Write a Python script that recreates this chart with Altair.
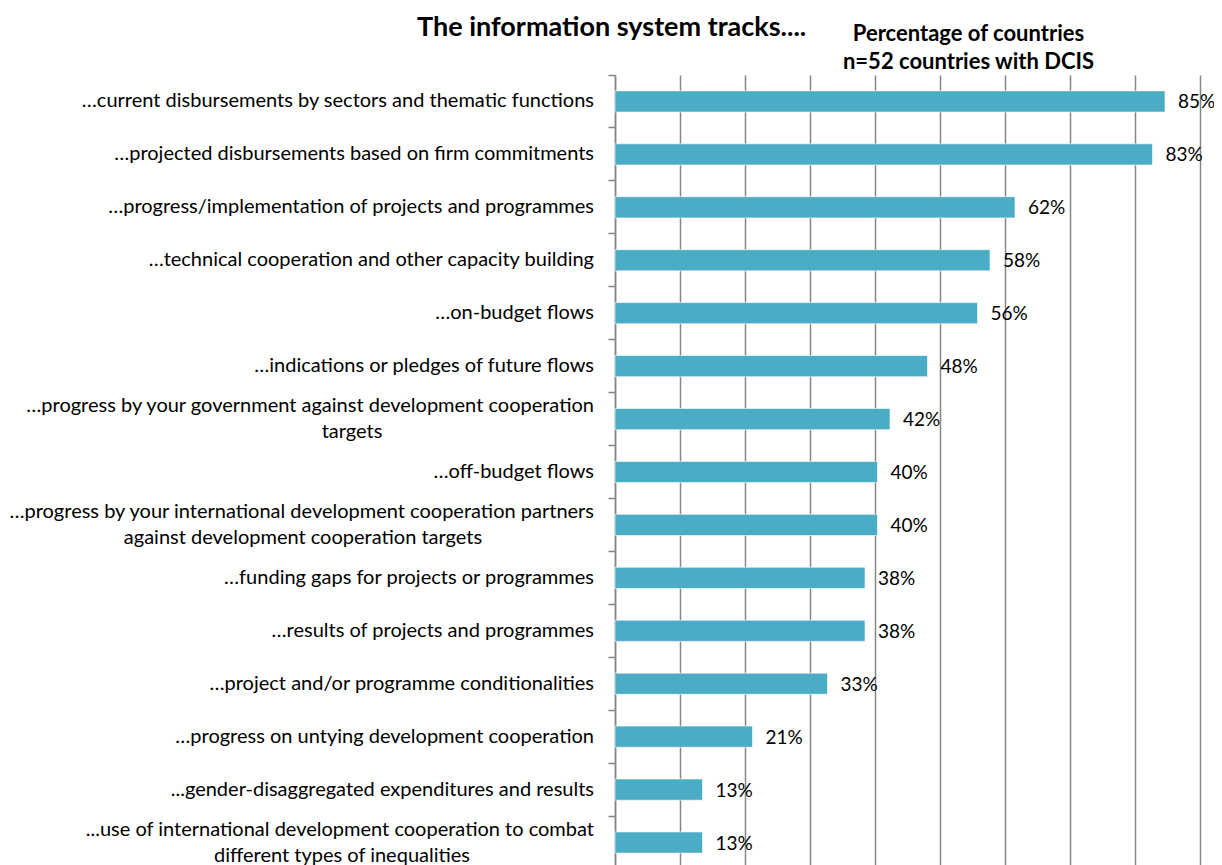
import altair as alt
import pandas as pd

categories = [
    "…current disbursements by sectors and thematic functions",
    "…projected disbursements based on firm commitments",
    "…progress/implementation of projects and programmes",
    "…technical cooperation and other capacity building",
    "…on-budget flows",
    "…indications or pledges of future flows",
    "…progress by your government against development cooperation targets",
    "…off-budget flows",
    "…progress by your international development cooperation partners against development cooperation targets",
    "…funding gaps for projects or programmes",
    "…results of projects and programmes",
    "…project and/or programme conditionalities",
    "…progress on untying development cooperation",
    "...gender-disaggregated expenditures and results",
    "...use of international development cooperation to combat different types of inequalities",
]
line1 = [
    "…current disbursements by sectors and thematic functions",
    "…projected disbursements based on firm commitments",
    "…progress/implementation of projects and programmes",
    "…technical cooperation and other capacity building",
    "…on-budget flows",
    "…indications or pledges of future flows",
    "…progress by your government against development cooperation",
    "…off-budget flows",
    "…progress by your international development cooperation partners",
    "…funding gaps for projects or programmes",
    "…results of projects and programmes",
    "…project and/or programme conditionalities",
    "…progress on untying development cooperation",
    "...gender-disaggregated expenditures and results",
    "...use of international development cooperation to combat",
]
line2 = ["", "", "", "", "", "", "targets", "", "against development cooperation targets",
         "", "", "", "", "", "different types of inequalities"]
values = [84.62, 82.69, 61.54, 57.69, 55.77, 48.08, 42.31, 40.38, 40.38, 38.46, 38.46,
          32.69, 21.15, 13.46, 13.46]
grid_ticks = [0, 10, 20, 30, 40, 50, 60, 70, 80, 90]

df = pd.DataFrame({"cat": categories, "l1": line1, "l2": line2, "value": values})
df["two"] = df["l2"] != ""

FONT = "Lato"
BAR = "#4BACC6"
GRID = "#868686"
LBL = 20

y_enc = alt.Y("cat:N", sort=categories,
              scale=alt.Scale(paddingInner=0, paddingOuter=0),
              axis=alt.Axis(labels=False, title=None, bandPosition=0, ticks=True,
                            tickSize=7, tickColor=GRID, tickWidth=1.5,
                            domainColor=GRID, domainWidth=1.5, grid=False))
x_scale = alt.Scale(domain=[0, 90], nice=False, zero=True)

base = alt.Chart(df)

bars = base.mark_bar(color=BAR, height=alt.RelativeBandSize(0.4),
                     stroke="white", strokeWidth=0.6).encode(
    x=alt.X("value:Q", scale=x_scale,
            axis=alt.Axis(orient="top", values=grid_ticks, labels=False, ticks=False,
                          domain=False, grid=True, gridColor=GRID, gridWidth=1.5,
                          title=["Percentage of countries", "n=52 countries with DCIS"],
                          titleFont=FONT, titleFontSize=22, titleFontWeight="bold",
                          titleColor="#000000", titleX=353, titleY=-52,
                          titleAlign="center", titleBaseline="top", titleLineHeight=28,
                          titleAngle=0)),
    y=y_enc,
)

vals = base.transform_calculate(
    lab="format(datum.value, '.0f') + '%'"
).mark_text(align="left", baseline="middle", dx=13, dy=1, font=FONT,
            fontSize=19, color="#000000").encode(
    x=alt.X("value:Q", scale=x_scale),
    y=alt.Y("cat:N", sort=categories),
    text="lab:N",
)

single = base.transform_filter("!datum.two").mark_text(
    align="right", baseline="middle", font=FONT, fontSize=LBL, color="#000000"
).encode(x=alt.value(-21), y=alt.Y("cat:N", sort=categories), text="l1:N")

first = base.transform_filter("datum.two").mark_text(
    align="right", baseline="middle", dy=-13, font=FONT, fontSize=LBL, color="#000000"
).encode(x=alt.value(-21), y=alt.Y("cat:N", sort=categories), text="l1:N")

second_x = {categories[6]: -263, categories[8]: -312, categories[14]: -273}
seconds = []
for c, xv in second_x.items():
    seconds.append(
        base.transform_filter(alt.datum.cat == c).mark_text(
            align="center", baseline="middle", dy=13, font=FONT, fontSize=LBL, color="#000000"
        ).encode(x=alt.value(xv), y=alt.Y("cat:N", sort=categories), text="l2:N")
    )

chart = alt.layer(bars, vals, single, first, *seconds).properties(
    width=585, height=794,
    autosize=alt.AutoSizeParams(type="none"),
    padding={"left": 607, "top": 67, "right": 14, "bottom": 0},
    title=alt.TitleParams("The information system tracks....", anchor="start", frame="group",
                          dx=-198, dy=24, font=FONT, fontSize=27, fontWeight="bold",
                          color="#000000"),
).configure_view(stroke=None)

chart.save("out.html", embed_options={"renderer": "svg", "actions": False})
